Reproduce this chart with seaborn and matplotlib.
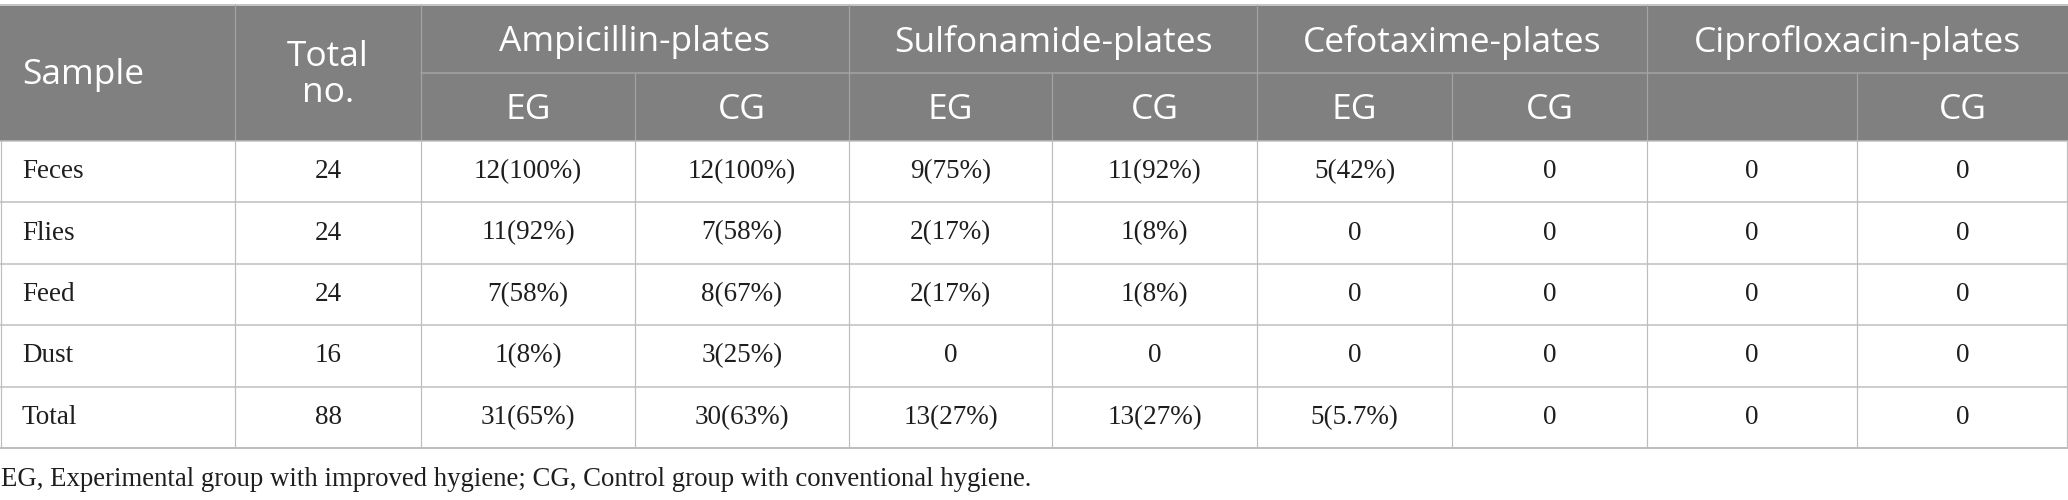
import matplotlib
matplotlib.use("Agg")
import matplotlib.pyplot as plt
import seaborn as sns
from matplotlib.patches import Rectangle

# ---------------- data ----------------
samples = ["Feces", "Flies", "Feed", "Dust", "Total"]
total_no = [24, 24, 24, 16, 88]
plates = ["Ampicillin-plates", "Sulfonamide-plates", "Cefotaxime-plates", "Ciprofloxacin-plates"]
sub_labels = ["EG", "CG", "EG", "CG", "EG", "CG", "", "CG"]

amp_eg_n = [12, 11, 7, 1, 31]
amp_eg_pct = ["100", "92", "58", "8", "65"]
amp_cg_n = [12, 7, 8, 3, 30]
amp_cg_pct = ["100", "58", "67", "25", "63"]
sul_eg_n = [9, 2, 2, 0, 13]
sul_eg_pct = ["75", "17", "17", "", "27"]
sul_cg_n = [11, 1, 1, 0, 13]
sul_cg_pct = ["92", "8", "8", "", "27"]
cef_eg_n = [5, 0, 0, 0, 5]
cef_eg_pct = ["42", "", "", "", "5.7"]
cef_cg_n = [0, 0, 0, 0, 0]
cip_eg_n = [0, 0, 0, 0, 0]
cip_cg_n = [0, 0, 0, 0, 0]

caption = "EG, Experimental group with improved hygiene; CG, Control group with conventional hygiene."


def fmt(n, pct=None):
    if n == 0 or not pct:
        return str(n)
    return f"{n}({pct}%)"


columns = [
    [fmt(n, p) for n, p in zip(amp_eg_n, amp_eg_pct)],
    [fmt(n, p) for n, p in zip(amp_cg_n, amp_cg_pct)],
    [fmt(n, p) for n, p in zip(sul_eg_n, sul_eg_pct)],
    [fmt(n, p) for n, p in zip(sul_cg_n, sul_cg_pct)],
    [fmt(n, p) for n, p in zip(cef_eg_n, cef_eg_pct)],
    [fmt(n) for n in cef_cg_n],
    [fmt(n) for n in cip_eg_n],
    [fmt(n) for n in cip_cg_n],
]

# ---------------- layout ----------------
sns.set_theme(style="white")
W, H = 2068, 500
col_edges = [0, 235, 421, 635, 849, 1052, 1257, 1452, 1647, 1857, 2068]
y_top, y_mid, y_head = 5, 73, 141
row_h = 61.4
row_edges = [y_head + i * row_h for i in range(6)]

HEAD_BG = "#7f807f"
HEAD_LINE = "#a3a4a3"
BODY_LINE = "#bdbdbd"
TEXT = "#1e1e1e"
SANS = ["Open Sans", "DejaVu Sans"]
SERIF = ["Liberation Serif", "DejaVu Serif"]

fig = plt.figure(figsize=(W / 100, H / 100), dpi=100)
ax = fig.add_axes([0, 0, 1, 1])
ax.set_xlim(0, W)
ax.set_ylim(H, 0)
ax.axis("off")

px = 0.72  # one pixel in points

# header background
ax.add_patch(Rectangle((0, y_top), W, y_head - y_top, facecolor=HEAD_BG, edgecolor="none", zorder=1))

# header lines
ax.plot([0, W], [y_top, y_top], color="#c4c4c4", lw=2 * px, zorder=3)
ax.plot([col_edges[2], W], [y_mid, y_mid], color=HEAD_LINE, lw=1.5 * px, zorder=3)
for i, x in enumerate(col_edges[1:-1], start=1):
    if i in (1, 2, 4, 6, 8):
        ax.plot([x, x], [y_top, y_head], color=HEAD_LINE, lw=1.2 * px, zorder=3)
    else:
        ax.plot([x, x], [y_mid, y_head], color=HEAD_LINE, lw=1.2 * px, zorder=3)

# body lines
for j, y in enumerate(row_edges):
    lw = 2 * px if j == len(row_edges) - 1 else 1.5 * px
    ax.plot([0, W], [y, y], color=BODY_LINE, lw=lw, zorder=3)
for x in col_edges:
    xx = min(max(x, 1), W - 1)
    ax.plot([xx, xx], [y_head, row_edges[-1]], color=BODY_LINE, lw=1.2 * px, zorder=3)

# header text
hsize = 25.5
ax.text(22, (y_top + y_head) / 2 + 2, "Sample", color="white", fontsize=hsize, family=SANS,
        ha="left", va="center", zorder=4)
cx = (col_edges[1] + col_edges[2]) / 2
ax.text(cx, (y_top + y_head) / 2 + 2, "Total\nno.", color="white", fontsize=hsize, family=SANS,
        ha="center", va="center", linespacing=1.05, zorder=4)
for k, name in enumerate(plates):
    x0, x1 = col_edges[2 + 2 * k], col_edges[4 + 2 * k]
    ax.text((x0 + x1) / 2, (y_top + y_mid) / 2 + 3, name, color="white", fontsize=hsize,
            family=SANS, ha="center", va="center", zorder=4)
for k, lab in enumerate(sub_labels):
    x0, x1 = col_edges[2 + k], col_edges[3 + k]
    ax.text((x0 + x1) / 2, (y_mid + y_head) / 2 + 3, lab, color="white", fontsize=hsize,
            family=SANS, ha="center", va="center", zorder=4)

# body text
bsize = 19.5
for r in range(len(samples)):
    yc = (row_edges[r] + row_edges[r + 1]) / 2
    ax.text(22, yc, samples[r], color=TEXT, fontsize=bsize, family=SERIF,
            ha="left", va="center", zorder=4)
    ax.text((col_edges[1] + col_edges[2]) / 2, yc, str(total_no[r]), color=TEXT,
            fontsize=bsize, family=SERIF, ha="center", va="center", zorder=4)
    for k, col in enumerate(columns):
        x0, x1 = col_edges[2 + k], col_edges[3 + k]
        ax.text((x0 + x1) / 2, yc, col[r], color=TEXT, fontsize=bsize, family=SERIF,
                ha="center", va="center", zorder=4)

# caption
ax.text(1, 480, caption, color=TEXT, fontsize=19.3, family=SERIF, ha="left", va="center", zorder=4)

fig.savefig("out.png", dpi=100, facecolor="white")
